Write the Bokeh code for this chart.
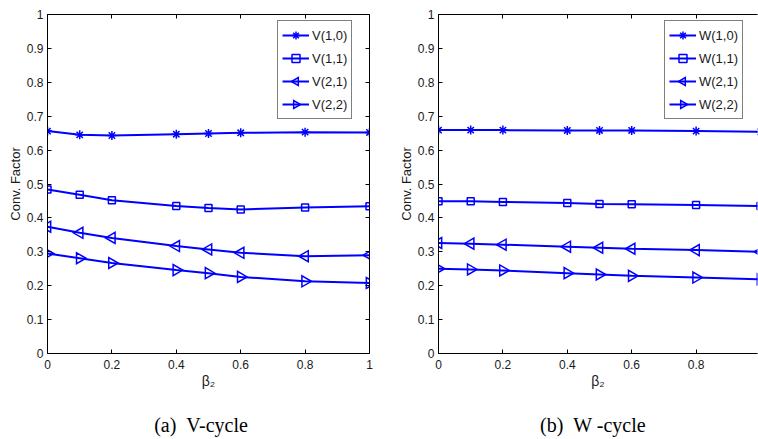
import math
from bokeh.plotting import figure
from bokeh.layouts import row
from bokeh.models import (Range1d, LinearAxis, FixedTicker, CustomJSTickFormatter,
                          Legend, LegendItem, ColumnDataSource,
                          CustomLabelingPolicy, CustomJS, Scatter)
from bokeh.embed import file_html
from bokeh.resources import INLINE

# ---------------- data ----------------
beta2 = [0, 0.1, 0.2, 0.4, 0.5, 0.6, 0.8, 1.0]

v_labels = ["V(1,0)", "V(1,1)", "V(2,1)", "V(2,2)"]
v10 = [0.656, 0.645, 0.643, 0.647, 0.649, 0.651, 0.653, 0.652]
v11 = [0.484, 0.468, 0.452, 0.435, 0.429, 0.425, 0.431, 0.434]
v21 = [0.374, 0.356, 0.341, 0.317, 0.307, 0.297, 0.287, 0.290]
v22 = [0.295, 0.281, 0.267, 0.246, 0.237, 0.226, 0.213, 0.208]

w_labels = ["W(1,0)", "W(1,1)", "W(2,1)", "W(2,2)"]
w10 = [0.659, 0.659, 0.659, 0.658, 0.658, 0.658, 0.656, 0.654]
w11 = [0.449, 0.449, 0.447, 0.444, 0.441, 0.440, 0.438, 0.435]
w21 = [0.326, 0.324, 0.321, 0.315, 0.312, 0.309, 0.305, 0.300]
w22 = [0.250, 0.248, 0.245, 0.237, 0.233, 0.229, 0.224, 0.219]

x_ticks = [0, 0.2, 0.4, 0.6, 0.8, 1.0]
y_ticks = [0, 0.1, 0.2, 0.3, 0.4, 0.5, 0.6, 0.7, 0.8, 0.9, 1.0]

NB = "\u00a0"
captions = ["(a)" + NB * 2 + "V-cycle" + NB * 3, "(b)" + NB * 2 + "W -cycle" + NB * 2]
y_label = "Conv. Factor"
x_label = "\u03b2\u2082"

BLUE = "#0000ff"
SANS = "Liberation Sans"
SERIF = "Liberation Serif"
TXT = "#1a1a1a"

# custom side-pointing triangles (drawn centred on the marker position)
TRI_JS = """
const d = cb_data;
if (!d || !d.ctx) return;
const ctx = d.ctx, r = d.r;
const h = r * Math.sqrt(3), a = h / 3;
const s = %s;
ctx.beginPath();
ctx.moveTo(s * a, -r);
ctx.lineTo(s * a, r);
ctx.lineTo(s * (a - h), 0);
ctx.closePath();
ctx.lineWidth = 1.5;
ctx.strokeStyle = "#0000ff";
ctx.stroke();
"""

HAS_DEFS = "defs" in Scatter.properties()

markers = [
    dict(marker="asterisk", angle=0.0, size=9),
    dict(marker="square", angle=0.0, size=7),
    dict(marker="triangle", angle=math.pi / 2, size=11, custom="@tri_left", sign="1"),
    dict(marker="triangle", angle=-math.pi / 2, size=11, custom="@tri_right", sign="-1"),
]

fmt = CustomJSTickFormatter(code="return String(Number(tick.toFixed(2)));")
blank_fmt = CustomJSTickFormatter(code="return '';")
no_labels = CustomLabelingPolicy(code="return new Set()")


def style_axis(ax, show_labels=True):
    ax.axis_line_color = "black"
    ax.axis_line_width = 1
    ax.major_tick_in = 4
    ax.major_tick_out = 0
    ax.minor_tick_line_color = None
    ax.major_tick_line_color = "black"
    ax.major_label_text_font = SANS
    ax.major_label_text_color = TXT
    ax.major_label_text_font_size = "12px"
    if not show_labels:
        ax.formatter = blank_fmt
        ax.major_label_policy = no_labels
        ax.major_label_standoff = 0
        ax.major_label_text_font_size = "1px"


def add_series(p, ys, m):
    src = ColumnDataSource(dict(x=beta2, y=ys, ang=[m["angle"]] * len(beta2)))
    ln = p.line("x", "y", source=src, line_color=BLUE, line_width=2)
    sc = None
    if HAS_DEFS and "custom" in m:
        try:
            sc = p.scatter("x", "y", source=src, marker=m["custom"],
                           defs={m["custom"]: CustomJS(code=TRI_JS % m["sign"])},
                           size=m["size"], line_color=BLUE, line_width=1.5,
                           fill_color=None)
        except Exception:
            sc = None
    if sc is None:
        sc = p.scatter("x", "y", source=src, marker=m["marker"], angle="ang",
                       size=m["size"], line_color=BLUE, line_width=1.5,
                       fill_color=None)
    return ln, sc


def make_panel(series, labels, caption, x_end, left_border, right_border,
               legend_loc, draw_right_axis):
    p = figure(width=379, height=439,
               x_range=Range1d(0, x_end), y_range=Range1d(0, 1),
               output_backend="svg", toolbar_location=None,
               x_axis_type=None, y_axis_type=None,
               min_border_left=left_border, min_border_right=right_border,
               min_border_top=14, min_border_bottom=86)
    p.outline_line_color = None
    p.background_fill_color = "white"
    p.border_fill_color = "white"

    xb = LinearAxis(ticker=FixedTicker(ticks=x_ticks), formatter=fmt)
    style_axis(xb)
    xb.major_label_standoff = 6
    xb.axis_label = x_label
    xb.axis_label_text_font = SANS
    xb.axis_label_text_font_size = "14px"
    xb.axis_label_text_font_style = "normal"
    xb.axis_label_text_color = TXT
    xb.axis_label_standoff = 1
    p.add_layout(xb, "below")

    # invisible axis that only carries the sub-figure caption
    cap = LinearAxis(ticker=FixedTicker(ticks=x_ticks))
    style_axis(cap, show_labels=False)
    cap.axis_line_color = None
    cap.major_tick_line_color = None
    cap.axis_label = caption
    cap.axis_label_text_font = SERIF
    cap.axis_label_text_font_size = "20px"
    cap.axis_label_text_font_style = "normal"
    cap.axis_label_text_color = "black"
    cap.axis_label_standoff = 22
    p.add_layout(cap, "below")

    yl = LinearAxis(ticker=FixedTicker(ticks=y_ticks), formatter=fmt)
    style_axis(yl)
    yl.major_label_standoff = 4
    yl.axis_label = y_label
    yl.axis_label_text_font = SANS
    yl.axis_label_text_font_size = "13px"
    yl.axis_label_text_font_style = "normal"
    yl.axis_label_text_color = TXT
    yl.axis_label_standoff = 1
    p.add_layout(yl, "left")

    xt = LinearAxis(ticker=FixedTicker(ticks=x_ticks))
    style_axis(xt, show_labels=False)
    p.add_layout(xt, "above")

    if draw_right_axis:
        yr = LinearAxis(ticker=FixedTicker(ticks=y_ticks))
        style_axis(yr, show_labels=False)
        p.add_layout(yr, "right")

    items = []
    for ys, lab, m in zip(series, labels, markers):
        ln, sc = add_series(p, ys, m)
        items.append(LegendItem(label=lab, renderers=[ln, sc]))

    leg = Legend(items=items, location=legend_loc)
    leg.label_text_font = SANS
    leg.label_text_font_size = "13px"
    leg.label_text_color = TXT
    leg.glyph_width = 27
    leg.glyph_height = 20
    leg.label_height = 20
    leg.spacing = 3
    leg.padding = 4
    leg.label_standoff = 3
    leg.border_line_color = "black"
    leg.border_line_width = 1
    leg.background_fill_color = "white"
    leg.background_fill_alpha = 1.0
    p.add_layout(leg, "center")
    return p


p1 = make_panel([v10, v11, v21, v22], v_labels, captions[0], 1.0, 47, 10,
                (230, 234), True)
p2 = make_panel([w10, w11, w21, w22], w_labels, captions[1], 0.9907, 59, 1,
                (226, 234), False)

layout = row(p1, p2)
open("out.html", "w").write(file_html(layout, INLINE))
